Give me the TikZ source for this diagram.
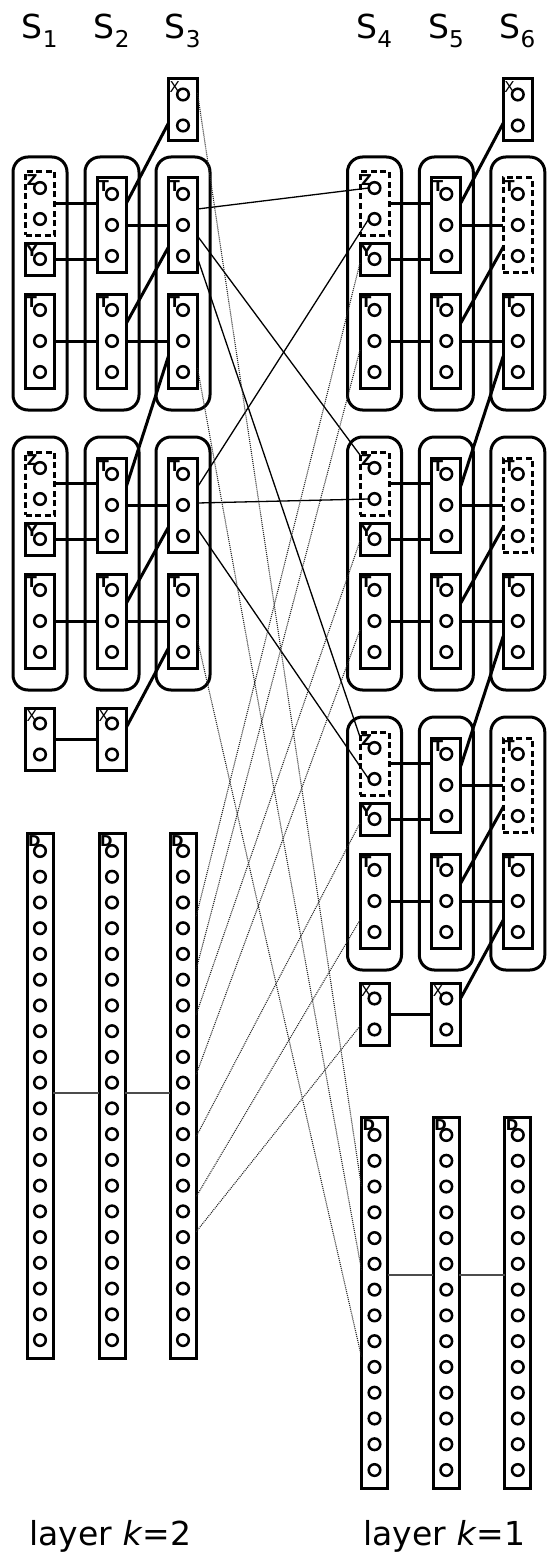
\documentclass[tikz,border=0pt]{standalone}
\usepackage{fontspec}
\setmainfont{DejaVu Sans}
\usetikzlibrary{calc}

% a box of #5 circles: name, style, centre x, top y, count, pitch, padding, tag
\newcommand\cbox[8]{%
  \pgfmathsetmacro\bxh{2*#7+(#5-1)*#6}%
  \node[#2, minimum height=\bxh pt] (#1) at (#3,{#4+\bxh/2}) {};
  \node[tag] (#1-t) at (#1.north west) {#8};
  \foreach \k in {1,...,#5}{\node[circ] (#1-\k) at (#3,{#4+#7+(\k-1)*#6}) {};}
}

% one row of three rounded groups: prefix, top y, three column x, style of the top box in column 3
\newcommand\trio[6]{%
  \node[grp] (#1g1) at (#3,{#2+126.5}) {};
  \node[grp] (#1g2) at (#4,{#2+126.5}) {};
  \node[grp] (#1g3) at (#5,{#2+126.5}) {};
  \cbox{#1z}{dcell}{#3}{#2+15}{2}{31}{16}{Z}
  \cbox{#1y}{cell}{#3}{#2+86}{1}{31}{16}{Y}
  \cbox{#1a}{cell}{#3}{#2+137}{3}{31}{16}{T}
  \cbox{#1b}{cell}{#4}{#2+21}{3}{31}{16}{T}
  \cbox{#1c}{cell}{#4}{#2+137}{3}{31}{16}{T}
  \cbox{#1d}{#6}{#5}{#2+21}{3}{31}{16}{T}
  \cbox{#1e}{cell}{#5}{#2+137}{3}{31}{16}{T}
  \draw[heavy] (#1z.east) -- (#1b.west |- #1z.east);
  \draw[heavy] (#1y.east) -- (#1b.west |- #1y.east);
  \draw[heavy] (#1b.east) -- (#1d.west);
  \draw[heavy] (#1a.east) -- (#1c.west);
  \draw[heavy] (#1c.east) -- (#1e.west);
  \draw[heavy] (#1c.east |- 0,{#2+166}) -- (#1d.west |- 0,{#2+90});
}

\begin{document}
\begin{tikzpicture}[x=1pt,y=-1pt,
  every node/.style={inner sep=0pt, outer sep=0pt},
  cell/.style={draw, line width=3pt, minimum width=29pt, inner sep=0pt},
  dcell/.style={cell, dash pattern=on 6pt off 3.5pt},
  dcol/.style={cell, minimum width=26pt},
  grp/.style={draw, line width=3pt, rounded corners=15pt, minimum width=54pt, minimum height=253pt},
  circ/.style={circle, draw, line width=2.5pt, minimum size=11.6pt, inner sep=0pt},
  tag/.style={anchor=north west, inner xsep=1pt, inner ysep=2.5pt, font=\fontsize{15}{16}\selectfont\bfseries},
  heavy/.style={line width=3pt},
  fine/.style={line width=1.3pt},
  dotline/.style={line width=1.1pt, black!85, dash pattern=on 1pt off 1pt},
  link/.style={line width=1.3pt, black!70},
  title/.style={font=\fontsize{33}{38}\selectfont, anchor=base}
]
\useasboundingbox (0,0) rectangle (546,1557);

% column headings
\node[title] (s1) at (40,39) {S\textsubscript{1}};
\node[title] (s2) at (112,39) {S\textsubscript{2}};
\node[title] (s3) at (183,39) {S\textsubscript{3}};
\node[title] (s4) at (374.5,39) {S\textsubscript{4}};
\node[title] (s5) at (446.3,39) {S\textsubscript{5}};
\node[title] (s6) at (517.8,39) {S\textsubscript{6}};

% layer k=2
\cbox{LX}{cell}{183}{79}{2}{31}{15.5}{\mdseries X}
\trio{L1}{157}{40}{112}{183}{cell}
\trio{L2}{437}{40}{112}{183}{cell}
\cbox{LX1}{cell}{40}{708}{2}{31}{15.5}{\mdseries X}
\cbox{LX2}{cell}{112}{708}{2}{31}{15.5}{\mdseries X}
\cbox{LD1}{dcol}{40}{833}{20}{25.74}{18}{D}
\cbox{LD2}{dcol}{112}{833}{20}{25.74}{18}{D}
\cbox{LD3}{dcol}{183}{833}{20}{25.74}{18}{D}

\draw[heavy] (LX.west |- 0,123) -- (L1b.east |- 0,203);
\draw[heavy] (L1e.west |- 0,356) -- (L2b.east |- 0,486);
\draw[heavy] (L2e.west |- 0,648) -- (LX2.east |- 0,727);
\draw[heavy] (LX1.east) -- (LX2.west);
\draw[link] (LD1.east |- 0,1093) -- (LD2.west |- 0,1093);
\draw[link] (LD2.east |- 0,1093) -- (LD3.west |- 0,1093);

% layer k=1
\cbox{RX}{cell}{517.8}{79}{2}{31}{15.5}{\mdseries X}
\trio{R1}{157}{374.5}{446.3}{517.8}{dcell}
\trio{R2}{437}{374.5}{446.3}{517.8}{dcell}
\trio{R3}{717}{374.5}{446.3}{517.8}{dcell}
\cbox{RX4}{cell}{374.5}{983}{2}{31}{15.5}{\mdseries X}
\cbox{RX5}{cell}{446.3}{983}{2}{31}{15.5}{\mdseries X}
\cbox{RD4}{dcol}{374.5}{1117}{14}{25.77}{18}{D}
\cbox{RD5}{dcol}{446.3}{1117}{14}{25.77}{18}{D}
\cbox{RD6}{dcol}{517.8}{1117}{14}{25.77}{18}{D}

\draw[heavy] (RX.west |- 0,123) -- (R1b.east |- 0,203);
\draw[heavy] (R1e.west |- 0,356) -- (R2b.east |- 0,486);
\draw[heavy] (R2e.west |- 0,636) -- (R3b.east |- 0,766);
\draw[heavy] (R3e.west |- 0,920) -- (RX5.east |- 0,998);
\draw[heavy] (RX4.east) -- (RX5.west);
\draw[link] (RD4.east |- 0,1275) -- (RD5.west |- 0,1275);
\draw[link] (RD5.east |- 0,1275) -- (RD6.west |- 0,1275);

% links between the two layers
\draw[fine] (L1d.east |- 0,209) -- (R1z-1.west);
\draw[fine] (L1d.east |- 0,236) -- (R2z.west |- 0,455);
\draw[fine] (L1d.east |- 0,258) -- (R3z.west |- 0,737);
\draw[fine] (R1z-2.west) -- (L2d.east |- 0,487);
\draw[fine] (L2d.east |- 0,503) -- (R2z-2.west);
\draw[fine] (L2d.east |- 0,529) -- (R3z-2.west);

\draw[dotline] (LX.east |- 0,93) -- (RD4.west |- 0,1187);
\draw[dotline] (L1e.east |- 0,368) -- (RD4.west |- 0,1270);
\draw[dotline] (L2e.east |- 0,640) -- (RD4.west |- 0,1357);
\draw[dotline] (R1y.west |- 0,263) -- (LD3.east |- 0,917);
\draw[dotline] (R1a.west |- 0,350) -- (LD3.east |- 0,970);
\draw[dotline] (R2y.west |- 0,541) -- (LD3.east |- 0,1015);
\draw[dotline] (R2a.west |- 0,630) -- (LD3.east |- 0,1075);
\draw[dotline] (R3y.west |- 0,823) -- (LD3.east |- 0,1137);
\draw[dotline] (R3a.west |- 0,920) -- (LD3.east |- 0,1197);
\draw[dotline] (RX4.west |- 0,1026) -- (LD3.east |- 0,1232);

% layer captions
\node[title] (k2) at (110.5,1545) {layer \textit{k}=2};
\node[title] (k1) at (444.5,1545) {layer \textit{k}=1};
\end{tikzpicture}
\end{document}
